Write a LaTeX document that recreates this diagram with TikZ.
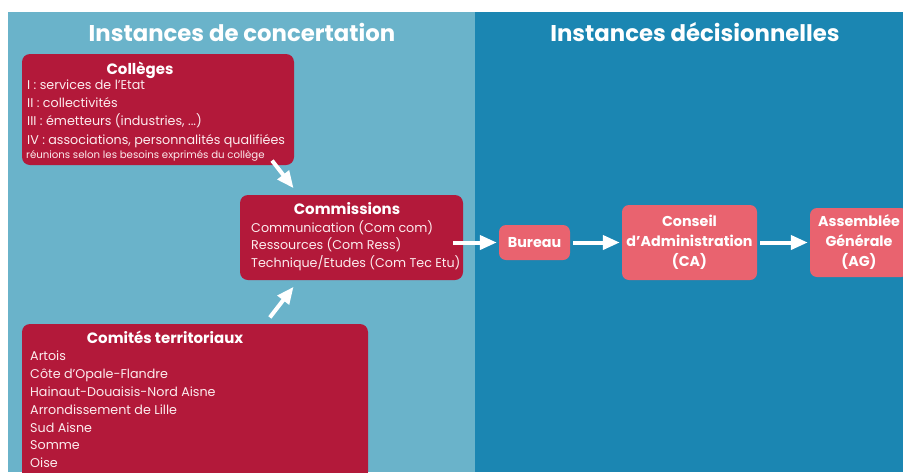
\documentclass[tikz,border=0pt]{standalone}
\usepackage{fontspec}
\setmainfont{Poppins}
\usetikzlibrary{arrows.meta}
\definecolor{paleblue}{HTML}{6AB3CA}
\definecolor{deepblue}{HTML}{1B86B2}
\definecolor{crimson}{HTML}{B3193A}
\definecolor{rose}{HTML}{E9636F}

\begin{document}
\begin{tikzpicture}[x=1pt,y=-1pt,
                main box/.style={rectangle,rounded corners=8pt,fill=crimson,inner sep=0pt},
                small box/.style={rectangle,rounded corners=7pt,fill=rose,inner sep=0pt,text=white,align=center,
                  font=\bfseries\fontsize{14.3}{20}\selectfont},
                title/.style={text=white,font=\bfseries\fontsize{22.8}{28}\selectfont},
                head/.style={text=white,font=\bfseries\fontsize{15}{16}\selectfont},
                list/.style={text=white!88!rose,anchor=west,align=left,inner sep=0pt},
                flow/.style={draw=white,line width=4pt,-{Triangle[width=14pt,length=17pt]},shorten <=3pt,shorten >=2pt},
                ]
                \useasboundingbox (0,0) rectangle (903,472);
                \fill[paleblue] (8,12) rectangle (475,472);
                \fill[deepblue] (475,12) rectangle (903,472);

                \node[title] (t1) at (242,32) {Instances de concertation};
                \node[title] (t2) at (695,32) {Instances décisionnelles};

                % concertation
                \node[main box,minimum width=272,minimum height=111] (colleges) at (158,109.5) {};
                \node[head] (h1) at (140,70) {Collèges};
                \node[list,font=\fontsize{12.7}{18.3}\selectfont] (l1) at (27,113.5)
                  {I : services de l’Etat\\II : collectivités\\III : émetteurs (industries, ...)\\IV : associations, personnalités qualifiées};
                \node[list,font=\fontsize{10.2}{10}\selectfont] (l2) at (26,156) {réunions selon les besoins exprimés du collège};

                \node[main box,minimum width=223,minimum height=85] (commissions) at (351.5,237.5) {};
                \node[head] (h2) at (347,209) {Commissions};
                \node[list,font=\fontsize{12.7}{17.5}\selectfont] (l3) at (251,245.5)
                  {Communication (Com com)\\Ressources (Com Ress)\\Technique/Etudes (Com Tec Etu)};

                \node[main box,minimum width=346,minimum height=156] (comites) at (195,402) {};
                \node[head] (h3) at (165,337) {Comités territoriaux};
                \node[list,font=\fontsize{12.7}{17.85}\selectfont] (l4) at (30,409.5)
                  {Artois\\Côte d’Opale-Flandre\\Hainaut-Douaisis-Nord Aisne\\Arrondissement de Lille\\Sud Aisne\\Somme\\Oise};

                % decision
                \node[small box,minimum width=71,minimum height=35] (bureau) at (534.5,242.5) {Bureau};
                \node[small box,minimum width=135,minimum height=75] (ca) at (689.5,242.5) {Conseil\\d’Administration\\(CA)};
                \node[small box,minimum width=98,minimum height=69] (ag) at (859,242.5) {Assemblée\\Générale\\(AG)};

                \draw[flow] ([xshift=-24pt,yshift=7pt]colleges.south east) -- ([xshift=55pt,yshift=5pt]commissions.north west);
                \draw[flow] ([xshift=73pt,yshift=4pt]comites.north) -- ([xshift=55pt,yshift=-5pt]commissions.south west);
                \draw[flow] ([xshift=-13pt]bureau.west -| commissions.east) -- (bureau.west);
                \draw[flow] (bureau) -- (ca);
                \draw[flow] (ca) -- (ag);
            \end{tikzpicture}
\end{document}
